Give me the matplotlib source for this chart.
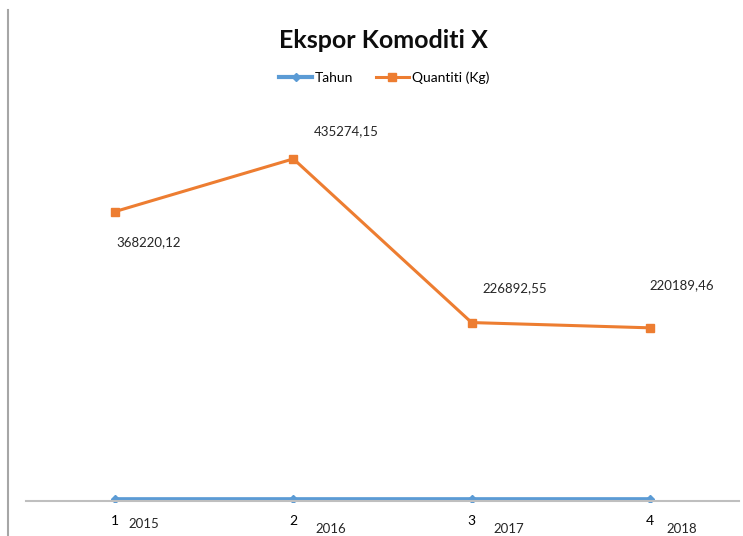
import matplotlib
matplotlib.use("Agg")
import matplotlib.pyplot as plt
from matplotlib.lines import Line2D

plt.rcParams['font.family'] = ['Lato', 'DejaVu Sans']

kategori = [1, 2, 3, 4]
tahun = [2015, 2016, 2017, 2018]
quantiti = [368220.12, 435274.15, 226892.55, 220189.46]
label_quantiti = ['368220,12', '435274,15', '226892,55', '220189,46']

# label offsets in points (Excel placed them by hand)
offsets = [(24, -22), (38, 20), (31, 25), (23, 31)]
year_dx = [0.16, 0.21, 0.21, 0.18]
year_dy = [-17, -20, -20, -20]

blue = '#5B9BD5'
orange = '#ED7D31'

fig = plt.figure(figsize=(7.43, 5.36), dpi=100)
ax = fig.add_axes([26 / 743, 34 / 536, 713 / 743, 394 / 536])

ax.plot(kategori, tahun, color=blue, lw=3, marker='D', ms=4.5, label='Tahun')
ax.plot(kategori, quantiti, color=orange, lw=2.2, marker='s', ms=6, label='Quantiti (Kg)')

for x, y, t, off in zip(kategori, quantiti, label_quantiti, offsets):
    ax.annotate(t, (x, y), xytext=off, textcoords='offset points',
                ha='center', va='center', fontsize=9.5, color='#262626')

ax.set_xlim(0.5, 4.5)
ax.set_ylim(-1500, 500000)
ax.set_yticks([])
ax.set_xticks(kategori)
ax.set_xticklabels([str(k) for k in kategori], fontsize=9.5, color='#262626')
ax.tick_params(axis='x', length=0, pad=10)
for s in ['top', 'left', 'right']:
    ax.spines[s].set_visible(False)
ax.spines['bottom'].set_color('#BFBFBF')
ax.spines['bottom'].set_linewidth(1.5)
ax.spines['bottom'].set_position(('data', 0))

for x, yr, dx, dy in zip(kategori, tahun, year_dx, year_dy):
    ax.annotate(str(yr), (x + dx, 0), xytext=(0, dy), textcoords='offset points',
                ha='center', va='center', fontsize=9.5, color='#262626',
                annotation_clip=False)

fig.text(383 / 743, 1 - 40 / 536, 'Ekspor Komoditi X', ha='center', va='center',
         fontsize=18, fontweight='bold', color='#0D0D0D')
fig.legend(loc='center', bbox_to_anchor=(384 / 743, 1 - 78 / 536), ncol=2,
           frameon=False, fontsize=10, handlelength=2.4, columnspacing=1.6,
           handletextpad=0.2)

fig.add_artist(Line2D([8 / 743, 8 / 743], [0, 1 - 10 / 536], color='#A6A6A6', lw=1.5))

fig.savefig('out.png', dpi=100)
